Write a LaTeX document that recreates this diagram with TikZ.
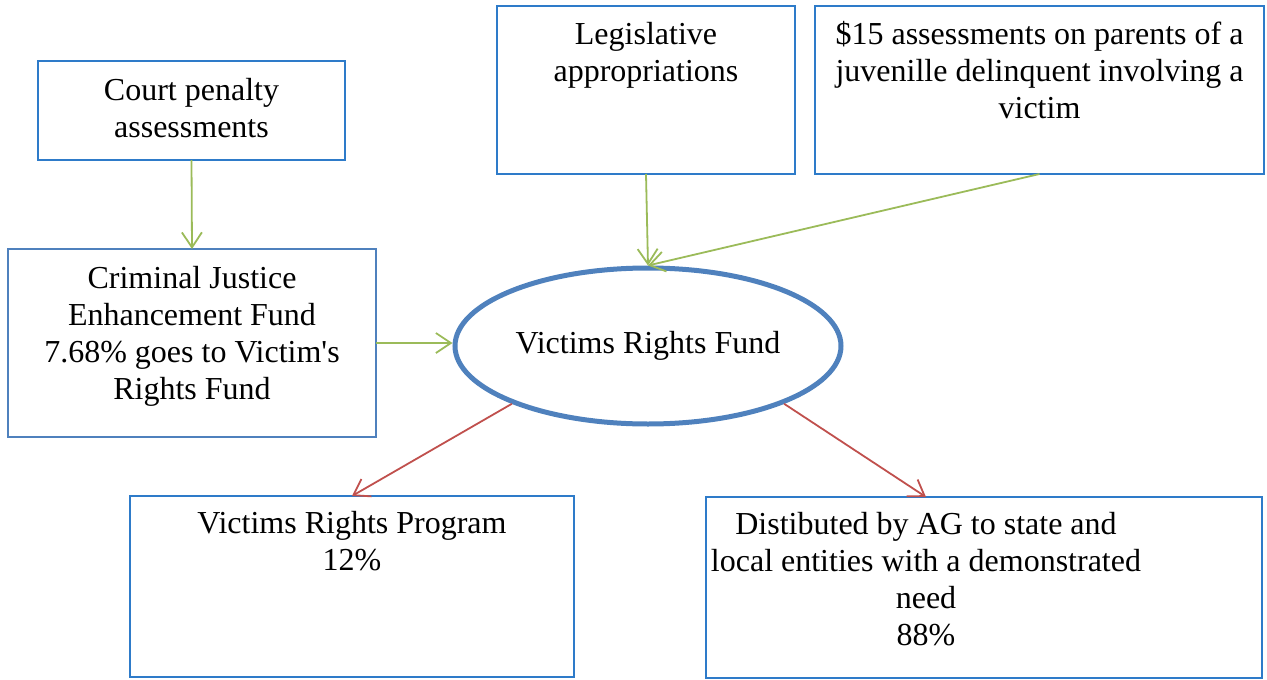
\documentclass[tikz,border=0pt]{standalone}
\usepackage{fontspec}
\setmainfont{Liberation Serif}
\usetikzlibrary{arrows.meta,shapes.geometric,calc}
\definecolor{boxblue}{HTML}{2E7BC9}
\definecolor{softblue}{HTML}{4F81BD}
\definecolor{arrgreen}{HTML}{9BBB59}
\definecolor{arrred}{HTML}{C0504D}
\tikzset{
  box/.style={draw=boxblue, line width=2pt, rectangle, inner sep=0pt, outer sep=0pt},
  softbox/.style={box, draw=softblue},
  boxtext/.style={anchor=north, inner sep=0pt, align=center, font=\fontsize{32}{37}\selectfont},
  garrow/.style={draw=arrgreen, line width=1.8pt, -{Straight Barb[length=15pt,width=20pt,line width=1.8pt]}},
  rarrow/.style={draw=arrred, line width=1.8pt, -{Straight Barb[length=15pt,width=20pt,line width=1.8pt]}},
}
\begin{document}
\begin{tikzpicture}[x=1pt,y=-1pt]
\useasboundingbox (0,0) rectangle (1267,680);
% boxes
\node[box, minimum width=307pt, minimum height=99pt] (court) at (191.5,110.5) {};
\node[box, minimum width=298pt, minimum height=168pt] (leg) at (646,90) {};
\node[box, minimum width=449pt, minimum height=168pt] (fifteen) at (1039.5,90) {};
\node[softbox, minimum width=368pt, minimum height=188pt] (crim) at (192,343) {};
\node[box, minimum width=444pt, minimum height=181pt] (prog) at (352,586.5) {};
\node[box, minimum width=556pt, minimum height=181pt] (dist) at (984,587.5) {};
\node[ellipse, draw=softblue, line width=5pt, minimum width=386pt, minimum height=156pt, inner sep=0pt,
      font=\fontsize{32}{37}\selectfont] (ell) at (648,346) {\raisebox{-3pt}{Victims Rights Fund}};
% texts
\node[boxtext] (courtT) at ($(court.north)+(0,13)$) {\strut Court penalty\\assessments};
\node[boxtext] (legT) at ($(leg.north)+(0,12)$) {\strut Legislative\\appropriations};
\node[boxtext] (fifteenT) at ($(fifteen.north)+(0,12)$) {\strut \$15 assessments on parents of a\\juvenille delinquent involving a\\victim};
\node[boxtext] (crimT) at ($(crim.north)+(0,13)$) {\strut Criminal Justice\\Enhancement Fund\\7.68\% goes to Victim\textquotesingle s\\Rights Fund};
\node[boxtext] (progT) at ($(prog.north)+(0,11)$) {\strut Victims Rights Program\\12\%};
\node[boxtext] (distT) at ($(dist.north)+(-58,11)$) {\strut Distibuted by AG to state and\\local entities with a demonstrated\\need\\88\%};
% connectors
\coordinate (distin) at ($(dist.north)+(-58,0)$);
\draw[garrow] (court.south) -- (crim.north);
\draw[garrow] (leg.south) -- (ell.north);
\draw[garrow] (fifteen.south) -- (ell.north);
\draw[garrow] (crim.east) -- (crim.east -| ell.west);
\draw[rarrow] (ell.203) -- (prog.north);
\draw[rarrow] (ell.337) -- (distin);
\end{tikzpicture}
\end{document}
